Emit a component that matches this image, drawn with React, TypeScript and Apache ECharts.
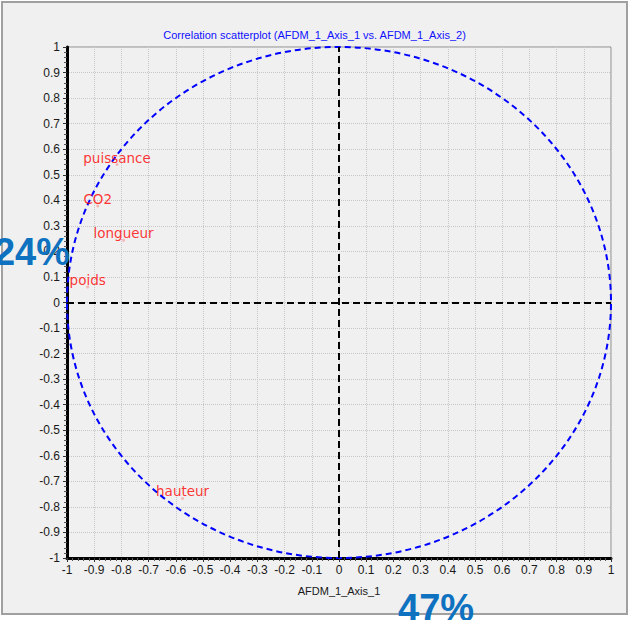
import React, { useEffect, useRef } from "react";
import * as echarts from "echarts";

const variableNames = ["puissance", "CO2", "longueur", "poids", "hauteur"];
const axis1Values = [-0.816, -0.887, -0.792, -0.924, -0.575];
const axis2Values = [0.54, 0.378, 0.244, 0.061, -0.767];
const circleRadius = [1];
const chartTitle = "Correlation scatterplot (AFDM_1_Axis_1 vs. AFDM_1_Axis_2)";
const xAxisName = "AFDM_1_Axis_1";
const inertiaAxis1 = "47%";
const inertiaAxis2 = "24%";

export default function App() {
  const ref = useRef<HTMLDivElement>(null);
  useEffect(() => {
    if (!ref.current) return;
    const chart = echarts.init(ref.current, null, { renderer: "svg" });
    const points = variableNames.map((n, i) => ({ name: n, value: [axis1Values[i], axis2Values[i]] }));
    const axisCommon = {
      type: "value" as const,
      min: -1,
      max: 1,
      interval: 0.1,
      axisLine: { show: true, onZero: false, lineStyle: { color: "#000", width: 3 } },
      axisTick: { show: true, length: 4, lineStyle: { color: "#333", width: 1 } },
      minorTick: { show: true, splitNumber: 5, length: 3, lineStyle: { color: "#555", width: 1 } },
      splitLine: { show: true, lineStyle: { color: "#c8c8c8", type: [1, 1] as any, width: 1 } },
      axisLabel: { fontSize: 12, color: "#1a1a1a", fontFamily: "Liberation Sans, Arial, sans-serif" },
    };
    const bigText = (text: string, x: number, y: number, align: string) => ({
      type: "text",
      z: 100,
      x,
      y,
      style: {
        text,
        fill: "#0e72c0",
        fontSize: 38,
        fontWeight: "bold",
        fontFamily: "Liberation Sans, Arial, sans-serif",
        align,
        verticalAlign: "middle",
        textAlign: align,
        textVerticalAlign: "middle",
      },
    });
    chart.setOption({
      animation: false,
      backgroundColor: "#ffffff",
      title: {
        text: chartTitle,
        left: "center",
        top: 29,
        padding: 0,
        textStyle: { fontSize: 11, fontWeight: "normal", color: "#1010ff", fontFamily: "Liberation Sans, Arial, sans-serif" },
      },
      grid: {
        left: 67,
        top: 47,
        right: 18,
        bottom: 62,
        show: true,
        borderColor: "#8c8c8c",
        borderWidth: 1,
        backgroundColor: "transparent",
      },
      xAxis: {
        ...axisCommon,
        axisLabel: { ...axisCommon.axisLabel, margin: 6 },
        name: xAxisName,
        nameLocation: "middle",
        nameGap: 27,
        nameTextStyle: { fontSize: 11, color: "#1a1a1a", fontFamily: "Liberation Sans, Arial, sans-serif" },
      },
      yAxis: {
        ...axisCommon,
        axisLabel: { ...axisCommon.axisLabel, margin: 7 },
      },
      graphic: [
        {
          type: "rect",
          z: -10,
          shape: { x: 2, y: 2, width: 625, height: 612 },
          style: { fill: "#f0f0f0", stroke: "#a0a0a0", lineWidth: 2 },
        },
        bigText(inertiaAxis2, 70, 252, "right"),
        bigText(inertiaAxis1, 398, 608, "left"),
      ],
      series: [
        {
          type: "custom",
          z: 3,
          silent: true,
          data: [[0, 0, circleRadius[0]]],
          renderItem: (params: any, api: any) => {
            const c = api.coord([api.value(0), api.value(1)]);
            const px = api.coord([api.value(0) + api.value(2), api.value(1)]);
            const py = api.coord([api.value(0), api.value(1) + api.value(2)]);
            return {
              type: "ellipse",
              shape: { cx: c[0], cy: c[1], rx: px[0] - c[0], ry: c[1] - py[1] },
              style: { fill: "none", stroke: "#0000ff", lineWidth: 2, lineDash: [6, 4] },
            };
          },
        },
        {
          type: "scatter",
          z: 4,
          symbolSize: 3,
          itemStyle: { color: "#f6a8a8" },
          data: points,
          label: {
            show: true,
            formatter: "{b}",
            position: "inside",
            offset: [0, -7],
            color: "#ff0000",
            fontSize: 13.5,
            fontFamily: "DejaVu Sans, sans-serif",
          },
          markLine: {
            silent: true,
            symbol: "none",
            label: { show: false },
            lineStyle: { color: "#000", type: [7, 4], width: 2 },
            data: [{ xAxis: 0 }, { yAxis: 0 }],
          },
        },
      ],
    });
    return () => chart.dispose();
  }, []);
  return (
    <div
      ref={ref}
      style={{ position: "absolute", left: 0, top: 0, width: 629, height: 620 }}
    />
  );
}
